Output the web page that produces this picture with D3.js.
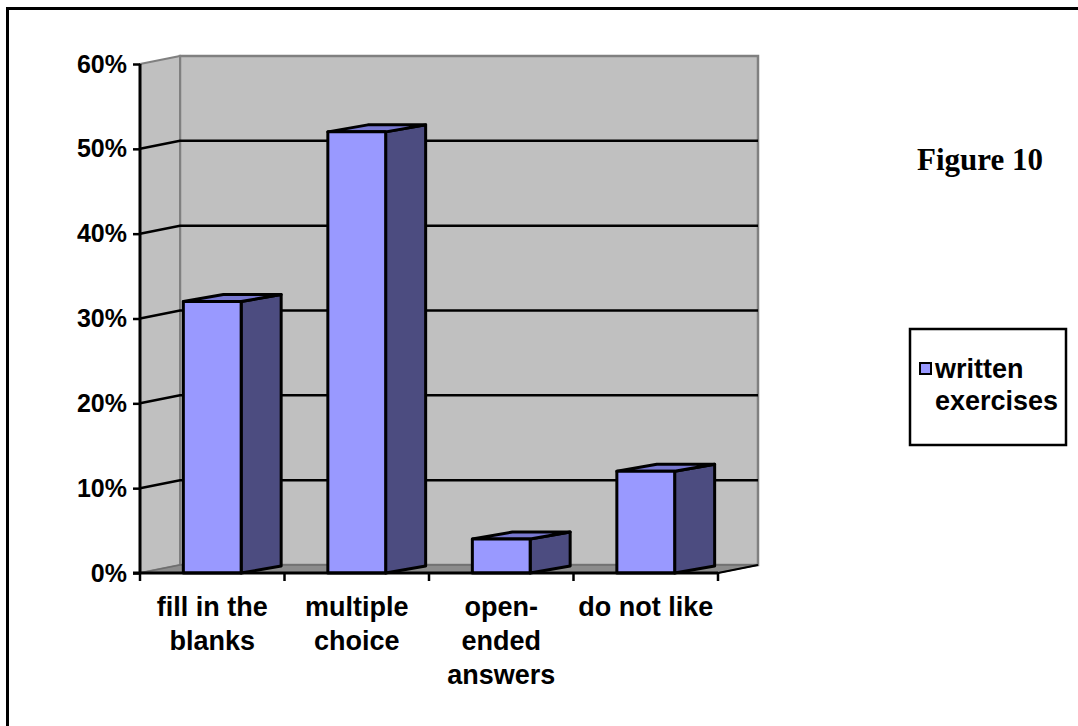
<!DOCTYPE html>
<html>
<head>
<meta charset="utf-8">
<script src="https://cdn.jsdelivr.net/npm/d3@7"></script>
<style>
  html, body { margin: 0; padding: 0; background: #fff; }
  svg { display: block; }
  text { font-family: "Liberation Sans", Arial, sans-serif; font-weight: bold; fill: #000; }
</style>
</head>
<body>
<svg id="chart" width="1078" height="726"></svg>
<script>
// Survey share per written-exercise type
const categories = ["fill in the blanks", "multiple choice", "open-ended answers", "do not like"];
const categoryLines = [["fill in the", "blanks"], ["multiple", "choice"], ["open-", "ended", "answers"], ["do not like"]];
const values = [0.32, 0.52, 0.04, 0.12];
const tickValues = [0, 0.1, 0.2, 0.3, 0.4, 0.5, 0.6];
const seriesName = ["written", "exercises"];
const figureTitle = "Figure 10";

const svg = d3.select("#chart");

// plot frame (front plane) and oblique depth of the walls
const plotLeft = 140, plotRight = 718, plotBottom = 573, plotTop = 64;
const depthX = 40, depthY = -8;   // wall depth
const barDX = 40, barDY = -7;     // column depth

const y = d3.scaleLinear().domain([0, 0.6]).range([plotBottom, plotTop]);
const x = d3.scaleBand().domain(categories).range([plotLeft, plotRight])
  .paddingInner(0.6).paddingOuter(0.3);
const step = x.step();

// outer frame
svg.append("rect").attr("x", 7.5).attr("y", 8.5).attr("width", 1200).attr("height", 900)
  .attr("fill", "none").attr("stroke", "#000").attr("stroke-width", 3);

const wallFill = "#c0c0c0", wallEdge = "#808080";
const g = svg.append("g");

// back wall
g.append("rect")
  .attr("x", plotLeft + depthX).attr("y", plotTop + depthY)
  .attr("width", plotRight - plotLeft).attr("height", plotBottom - plotTop)
  .attr("fill", wallFill).attr("stroke", wallEdge).attr("stroke-width", 2.5);

// side wall
g.append("polygon")
  .attr("points", [[plotLeft, plotTop], [plotLeft + depthX, plotTop + depthY], [plotLeft + depthX, plotBottom + depthY], [plotLeft, plotBottom]].join(" "))
  .attr("fill", wallFill).attr("stroke", wallEdge).attr("stroke-width", 2);

// floor
g.append("polygon")
  .attr("points", [[plotLeft, plotBottom], [plotLeft + depthX, plotBottom + depthY], [plotRight + depthX, plotBottom + depthY], [plotRight, plotBottom]].join(" "))
  .attr("fill", "#8c8c8c").attr("stroke", "#6e6e6e").attr("stroke-width", 1.5);

// gridlines across side wall and back wall
const grid = tickValues.filter(v => v > 0 && v < 0.6);
grid.forEach(v => {
  const yy = y(v);
  g.append("polyline")
    .attr("points", [[plotLeft, yy], [plotLeft + depthX, yy + depthY], [plotRight + depthX, yy + depthY]].join(" "))
    .attr("fill", "none").attr("stroke", "#000").attr("stroke-width", 2.5);
});

// floor right edge
g.append("line")
  .attr("x1", plotRight).attr("y1", plotBottom).attr("x2", plotRight + depthX).attr("y2", plotBottom + depthY)
  .attr("stroke", "#000").attr("stroke-width", 2);

// 3D columns
const frontFill = "#9999ff", topFill = "#7878d0", sideFill = "#4c4c80";
const bars = g.selectAll("g.bar").data(categories).join("g").attr("class", "bar");
bars.each(function(c, i) {
  const b = d3.select(this);
  const x0 = x(c), x1 = x(c) + x.bandwidth();
  const y0 = y(0), y1 = y(values[i]);
  const poly = (pts, fill) => b.append("polygon").attr("points", pts.join(" ")).attr("fill", fill)
    .attr("stroke", "#000").attr("stroke-width", 3).attr("stroke-linejoin", "round");
  poly([[x1, y1], [x1 + barDX, y1 + barDY], [x1 + barDX, y0 + barDY], [x1, y0]], sideFill);
  poly([[x0, y1], [x0 + barDX, y1 + barDY], [x1 + barDX, y1 + barDY], [x1, y1]], topFill);
  poly([[x0, y1], [x1, y1], [x1, y0], [x0, y0]], frontFill);
});

// value axis
const yAxis = d3.axisLeft(y).tickValues(tickValues).tickFormat(d3.format(".0%")).tickSize(7).tickPadding(6);
const ya = svg.append("g").attr("transform", `translate(${plotLeft},0)`).call(yAxis);
ya.select(".domain").attr("stroke", "#000").attr("stroke-width", 3).attr("d", `M0,${plotTop}V${plotBottom}`);
ya.selectAll(".tick line").attr("stroke", "#000").attr("stroke-width", 2.5);
ya.selectAll(".tick text").style("font-size", "25px").style("font-family", "'Liberation Sans', Arial, sans-serif")
  .style("font-weight", "bold").attr("fill", "#000");

// category axis line with ticks at band boundaries
svg.append("line").attr("x1", plotLeft - 7).attr("y1", plotBottom).attr("x2", plotRight).attr("y2", plotBottom)
  .attr("stroke", "#000").attr("stroke-width", 3);
d3.range(categories.length + 1).forEach(i => {
  const xx = plotLeft + i * step;
  svg.append("line").attr("x1", xx).attr("y1", plotBottom).attr("x2", xx).attr("y2", plotBottom + 8)
    .attr("stroke", "#000").attr("stroke-width", 2.5);
});

// category labels
categories.forEach((c, i) => {
  const cx = x(c) + x.bandwidth() / 2;
  const t = svg.append("text").attr("text-anchor", "middle").style("font-size", "27px");
  categoryLines[i].forEach((ln, k) => {
    t.append("tspan").attr("x", cx).attr("y", 616 + k * 34).text(ln);
  });
});

// figure title
svg.append("text").attr("x", 917).attr("y", 170)
  .style("font-family", "'Liberation Serif', 'Times New Roman', serif").style("font-size", "31px")
  .text(figureTitle);

// legend
const lg = svg.append("g");
lg.append("rect").attr("x", 910).attr("y", 329).attr("width", 156).attr("height", 116)
  .attr("fill", "#fff").attr("stroke", "#000").attr("stroke-width", 2.5);
lg.append("rect").attr("x", 920).attr("y", 363).attr("width", 11).attr("height", 11)
  .attr("fill", frontFill).attr("stroke", "#000").attr("stroke-width", 2);
const lt = lg.append("text").style("font-size", "27px");
seriesName.forEach((s, k) => lt.append("tspan").attr("x", 935).attr("y", 378 + k * 32).text(s));
</script>
</body>
</html>
